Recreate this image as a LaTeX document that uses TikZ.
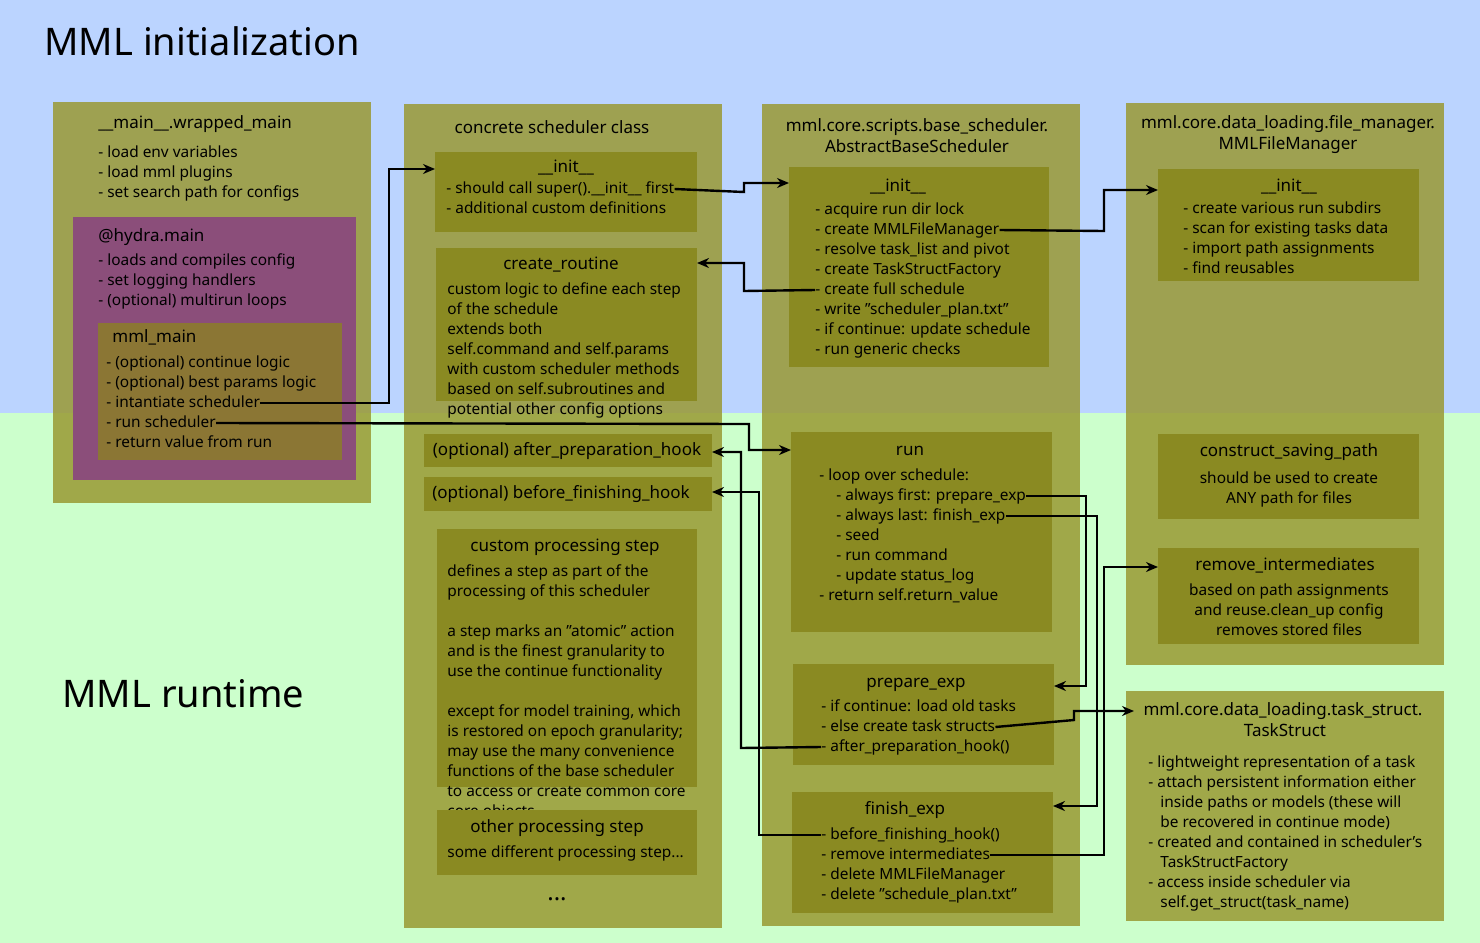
\documentclass[tikz,border=0pt]{standalone}
\usepackage{fontspec}
\setmainfont{Noto Sans}
\usetikzlibrary{arrows.meta}
\definecolor{initblue}{RGB}{187,212,255}
\definecolor{rungreen}{RGB}{204,255,204}
\definecolor{panelolive}{RGB}{153,153,51}
\definecolor{boxolive}{RGB}{138,138,34}
\definecolor{hydrapurple}{RGB}{139,78,122}
\definecolor{mainolive}{RGB}{139,118,52}
\tikzset{
  panel/.style={fill=panelolive,fill opacity=0.85,draw=none},
  box/.style={fill=boxolive,draw=none},
  txt/.style={anchor=west,inner sep=0pt,text height=5.6pt,text depth=1.6pt,font=\fontsize{7.7}{9}\selectfont},
  ctxt/.style={txt,anchor=center},
  ttl/.style={ctxt,font=\fontsize{8.5}{10}\selectfont},
  flow/.style={line width=1.2pt,-{Stealth[length=6pt,width=5pt]}}
}
\begin{document}
\begin{tikzpicture}[x=0.5pt,y=-0.5pt]
  \useasboundingbox (0,0) rectangle (1480,943);
  \fill[initblue] (0,0) rectangle (1480,413);
  \fill[rungreen] (0,413) rectangle (1480,943);
  \node[anchor=west,inner sep=0pt,font=\fontsize{19}{22}\selectfont] (initTitle) at (44,41) {MML initialization};
  \node[anchor=west,inner sep=0pt,font=\fontsize{19}{22}\selectfont] (runTitle) at (62,694) {MML runtime};

  % panels
  \fill[panel] (53,102) rectangle (371,503);
  \fill[panel] (404,104) rectangle (722,928);
  \fill[panel] (762,104) rectangle (1080,926);
  \fill[panel] (1126,103) rectangle (1444,665);
  \fill[panel] (1126,691) rectangle (1444,921);

  % wrapped main
  \node[txt] (wmTitle) at (98,124) {\fontsize{8.5}{10}\selectfont \_\_main\_\_.wrapped\_main};
  \node[txt] at (98,153) {- load env variables};
  \node[txt] at (98,173) {- load mml plugins};
  \node[txt] at (98,193) {- set search path for configs};
  \fill[hydrapurple] (73,217) rectangle (356,480);
  \node[txt] (hyTitle) at (98,237) {\fontsize{8.5}{10}\selectfont @hydra.main};
  \node[txt] at (98,261) {- loads and compiles config};
  \node[txt] at (98,281) {- set logging handlers};
  \node[txt] at (98,301) {- (optional) multirun loops};
  \fill[mainolive] (98,323) rectangle (342,460);
  \node[txt] (mmTitle) at (112,338) {\fontsize{8.5}{10}\selectfont mml\_main};
  \node[txt] at (106,363) {- (optional) continue logic};
  \node[txt] at (106,383) {- (optional) best params logic};
  \node[txt] (mmInst) at (106,403) {- intantiate scheduler};
  \node[txt] (mmRun) at (106,423) {- run scheduler};
  \node[txt] at (106,443) {- return value from run};

  % concrete scheduler
  \node[ttl] (csTitle) at (552,129) {concrete scheduler class};
  \fill[box] (435,152) rectangle (697,232);
  \coordinate (csInitIn) at (435,169);
  \node[ttl] at (566,168) {\_\_init\_\_};
  \node[txt] (csSuper) at (446,189) {- should call super().\_\_init\_\_ first};
  \node[txt] at (446,209) {- additional custom definitions};
  \fill[box] (436,248) rectangle (697,401);
  \coordinate (crIn) at (697,263);
  \node[ttl] at (561,265) {create\_routine};
  \foreach \t [count=\i from 0] in {custom logic to define each step,of the schedule, extends both,self.command and self.params,with custom scheduler methods,based on self.subroutines and,potential other config options}
    \node[txt] at (447,290+20*\i) {\t};
  \fill[box] (424,434) rectangle (712,467);
  \coordinate (apIn) at (712,452);
  \node[ttl] at (567,451) {(optional) after\_preparation\_hook};
  \fill[box] (424,477) rectangle (712,511);
  \coordinate (bfIn) at (712,492);
  \node[ttl] at (561,494) {(optional) before\_finishing\_hook};
  \fill[box] (437,529) rectangle (697,787);
  \node[ttl] at (565,547) {custom processing step};
  \foreach \t [count=\i from 0] in {defines a step as part of the,processing of this scheduler,,a step marks an "atomic" action,and is the finest granularity to,use the continue functionality,,except for model training{,} which,is restored on epoch granularity;,may use the many convenience,functions of the base scheduler,to access or create common core,core objects}
    \node[txt] at (447,572+20*\i) {\t};
  \fill[box] (437,810) rectangle (697,875);
  \node[ttl] at (557,828) {other processing step};
  \node[txt] at (447,853) {some different processing step...};
  \node[ctxt,font=\fontsize{12}{12}\selectfont\bfseries] (dots) at (557,896) {...};

  % base scheduler
  \node[ttl] at (917,127) {mml.core.scripts.base\_scheduler.};
  \node[ttl] at (917,148) {AbstractBaseScheduler};
  \fill[box] (789,167) rectangle (1049,367);
  \coordinate (bsInitIn) at (789,183);
  \node[ttl] at (898,187) {\_\_init\_\_};
  \foreach \t/\n [count=\i from 0] in {- acquire run dir lock/bsA,- create MMLFileManager/bsFM,- resolve task\_list and pivot/bsB,- create TaskStructFactory/bsC,- create full schedule/bsFull,- write "scheduler\_plan.txt"/bsD,- if continue: update schedule/bsE,- run generic checks/bsF}
    \node[txt] (\n) at (815,210+20*\i) {\t};
  \fill[box] (791,432) rectangle (1052,632);
  \coordinate (runIn) at (791,450);
  \node[ttl] at (910,451) {run};
  \node[txt] at (819,476) {- loop over schedule:};
  \node[txt] (runFirst) at (836,496) {- always first: prepare\_exp};
  \node[txt] (runLast) at (836,516) {- always last: finish\_exp};
  \node[txt] at (836,536) {- seed};
  \node[txt] at (836,556) {- run command};
  \node[txt] at (836,576) {- update status\_log};
  \node[txt] at (819,596) {- return self.return\_value};
  \fill[box] (793,664) rectangle (1054,765);
  \coordinate (prIn) at (1054,686);
  \node[ttl] at (916,683) {prepare\_exp};
  \node[txt] at (821,707) {- if continue: load old tasks};
  \node[txt] (prStruct) at (821,727) {- else create task structs};
  \node[txt] (prHook) at (821,747) {- after\_preparation\_hook()};
  \fill[box] (792,792) rectangle (1053,913);
  \coordinate (fiIn) at (1053,806);
  \node[ttl] at (905,810) {finish\_exp};
  \node[txt] (fiHook) at (821,835) {- before\_finishing\_hook()};
  \node[txt] (fiRem) at (821,855) {- remove intermediates};
  \node[txt] at (821,875) {- delete MMLFileManager};
  \node[txt] at (821,895) {- delete "schedule\_plan.txt"};

  % file manager
  \node[ttl] at (1288,124) {mml.core.data\_loading.file\_manager.};
  \node[ttl] at (1288,145) {MMLFileManager};
  \fill[box] (1158,169) rectangle (1419,281);
  \coordinate (fmInitIn) at (1158,190);
  \node[ttl] at (1289,187) {\_\_init\_\_};
  \foreach \t [count=\i from 0] in {- create various run subdirs,- scan for existing tasks data,- import path assignments,- find reusables}
    \node[txt] at (1183,209+20*\i) {\t};
  \fill[box] (1158,434) rectangle (1419,519);
  \node[ttl] at (1289,452) {construct\_saving\_path};
  \node[ctxt] at (1289,479) {should be used to create};
  \node[ctxt] at (1289,499) {ANY path for files};
  \fill[box] (1158,548) rectangle (1419,644);
  \coordinate (riIn) at (1158,567);
  \node[ttl] at (1285,566) {remove\_intermediates};
  \node[ctxt] at (1289,591) {based on path assignments};
  \node[ctxt] at (1289,611) {and reuse.clean\_up config};
  \node[ctxt] at (1289,631) {removes stored files};

  % task struct
  \node[ttl] (tsHead) at (1283,711) {mml.core.data\_loading.task\_struct.};
  \coordinate (tsIn) at (1134,711);
  \node[ttl] at (1285,732) {TaskStruct};
  \foreach \t/\x [count=\i from 0] in {- lightweight representation of a task/1148,- attach persistent information either/1148,inside paths or models (these will/1160,be recovered in continue mode)/1160,- created and contained in scheduler's/1148,TaskStructFactory/1160,- access inside scheduler via/1148,self.get\_struct(task\_name)/1160}
    \node[txt] at (\x,763+20*\i) {\t};

  % connectors
  \draw[flow] (mmInst.east) -- (389,403) |- (csInitIn);
  \draw[flow] (mmRun.east) -- (749,424) |- (runIn);
  \draw[flow] (csSuper.east) -- (744,192) |- (bsInitIn);
  \draw[flow] (bsFull.west) -- (744,291) |- (crIn);
  \draw[flow] (bsFM.east) -- (1104,231) |- (fmInitIn);
  \draw[flow] (runFirst.east) -- (1086,496) |- (prIn);
  \draw[flow] (runLast.east) -- (1097,516) |- (fiIn);
  \draw[flow] (prStruct.east) -- (1074,720) |- (tsIn);
  \draw[flow] (prHook.west) -- (741,748) |- (apIn);
  \draw[flow] (fiHook.west) -- (759,835) |- (bfIn);
  \draw[flow] (fiRem.east) -- (1104,855) |- (riIn);
\end{tikzpicture}
\end{document}
